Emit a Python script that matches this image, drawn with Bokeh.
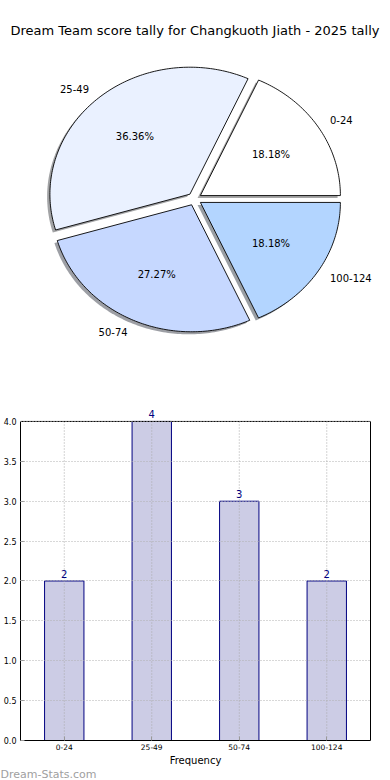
import math
from bokeh.plotting import figure
from bokeh.models import (Range1d, FactorRange, ColumnDataSource, LabelSet, Label,
                          FixedTicker, PrintfTickFormatter, Span, LinearAxis)
from bokeh.layouts import column
from bokeh.embed import file_html
from bokeh.resources import INLINE
from bokeh.core.properties import value

# ---------------- data ----------------
categories = ["0-24", "25-49", "50-74", "100-124"]
counts = [2, 4, 3, 2]
slice_colors = ["#ffffff", "#eaf1ff", "#c6d8ff", "#b3d5ff"]
y_ticks = [0.0, 0.5, 1.0, 1.5, 2.0, 2.5, 3.0, 3.5, 4.0]
y_max = 4.0
title_text = "Dream Team score tally for Changkuoth Jiath - 2025 tally"
x_label = "Frequency"
watermark = "Dream-Stats.com"

FONT = "DejaVu Sans"

# ---------------- layout constants (pixels) ----------------
W = 390
PIE_H = 390
BAR_H = 378
WM_H = 12
CX, CY = 194.0, 198.5      # pie centre on the canvas
RX, RY = 140.0, 127.0      # pie radii (elliptical, like the original)
EXPLODE = 0.05
SHADOW_OFF = 0.02
HEADROOM = 1.05            # room above the frame top for the value labels

# ---------------- pie ----------------
p1 = figure(width=W, height=PIE_H, output_backend="svg", toolbar_location=None,
            x_range=Range1d(-CX / RX, (W - CX) / RX),
            y_range=Range1d(-(PIE_H - CY) / RY, CY / RY),
            min_border=0, x_axis_type=None, y_axis_type=None)
p1.frame_align = False
p1.grid.visible = False
p1.outline_line_color = None
p1.background_fill_color = "white"
p1.border_fill_color = "white"

total = float(sum(counts))
wx, wy, shx, shy, shc = [], [], [], [], []
lx, ly, lal, px, py, ptxt = [], [], [], [], [], []
start = 0.0
for c, col in zip(counts, slice_colors):
    span = 360.0 * c / total
    t1, t2 = start, start + span
    mid = math.radians((t1 + t2) / 2.0)
    ox, oy = EXPLODE * math.cos(mid), EXPLODE * math.sin(mid)
    n = max(int(span), 4)
    arc = [math.radians(t1 + (t2 - t1) * k / n) for k in range(n + 1)]
    xs = [ox] + [ox + math.cos(a) for a in arc]
    ys = [oy] + [oy + math.sin(a) for a in arc]
    wx.append(xs)
    wy.append(ys)
    shx.append([v - SHADOW_OFF for v in xs])
    shy.append([v - SHADOW_OFF for v in ys])
    h = col.lstrip("#")
    r, g, b = int(h[0:2], 16), int(h[2:4], 16), int(h[4:6], 16)
    shc.append("#%02x%02x%02x" % (int(r * 0.3), int(g * 0.3), int(b * 0.3)))
    lx.append(ox + 1.1 * math.cos(mid))
    ly.append(oy + 1.1 * math.sin(mid))
    lal.append("left" if math.cos(mid) > 0 else "right")
    px.append(ox + 0.6 * math.cos(mid))
    py.append(oy + 0.6 * math.sin(mid))
    ptxt.append("%.2f%%" % (100.0 * c / total))
    start = t2

p1.patches(xs=shx, ys=shy, fill_color=shc, fill_alpha=0.5, line_color=None)
p1.patches(xs="xs", ys="ys", fill_color="fc", line_color="black", line_width=0.9,
           source=ColumnDataSource(dict(xs=wx, ys=wy, fc=slice_colors)))
p1.text(x="x", y="y", text="t", text_align="al", text_baseline="middle",
        text_font=value(FONT), text_font_size="10px", text_color="black",
        source=ColumnDataSource(dict(x=lx, y=ly, t=categories, al=lal)))
p1.text(x="x", y="y", text="t", text_align="center", text_baseline="middle",
        text_font=value(FONT), text_font_size="10px", text_color="black",
        source=ColumnDataSource(dict(x=px, y=py, t=ptxt)))
p1.add_layout(Label(x=194.5, y=PIE_H - 30, x_units="screen", y_units="screen",
                    text=title_text, text_align="center", text_baseline="middle",
                    text_font=FONT, text_font_size="13px", text_color="black"))

# ---------------- bar chart ----------------
# frame: left 19, right 370, bottom 740; y=4 sits at page y 421
p2 = figure(width=W, height=BAR_H, output_backend="svg", toolbar_location=None,
            x_range=FactorRange(factors=categories, range_padding=0),
            y_range=Range1d(0, y_max * HEADROOM),
            min_border_left=19, min_border_right=20, min_border_bottom=28)
p2.frame_align = False
p2.min_border_top = 31 - int(round(319 * (HEADROOM - 1.0)))
p2.background_fill_color = "white"
p2.border_fill_color = "white"
p2.outline_line_color = None
p2.xgrid.visible = False

src = ColumnDataSource(dict(cat=categories, cnt=counts, lab=[str(c) for c in counts],
                            y0=[0.0] * len(categories), y1=[y_max] * len(categories)))
p2.vbar(x="cat", top="cnt", width=0.45, fill_color="#ccccE5", line_color="#000080",
        line_width=1, source=src)
# vertical grid lines (dotted, on top of bars) only inside the 0..4 box
p2.segment(x0="cat", y0="y0", x1="cat", y1="y1", line_color="#a8a8a8",
           line_dash="1 2", line_width=1, source=src)
p2.ygrid.grid_line_color = "#b0b0b0"
p2.ygrid.grid_line_dash = "1 2"
p2.ygrid.grid_line_width = 1
p2.ygrid.level = "overlay"

p2.add_layout(LabelSet(x="cat", y="cnt", text="lab", y_offset=3, source=src,
                       text_align="center", text_baseline="bottom", text_font=value(FONT),
                       text_font_size="10px", text_color="#000080"))

# frame top border at y=4
p2.add_layout(Span(location=y_max, dimension="width", line_color="black", line_width=1))

p2.yaxis.ticker = FixedTicker(ticks=y_ticks)
p2.yaxis.formatter = PrintfTickFormatter(format="%.1f")
p2.yaxis.bounds = (0, y_max)
right_ax = LinearAxis(ticker=FixedTicker(ticks=[]), bounds=(0, y_max),
                      major_label_standoff=0)
p2.add_layout(right_ax, "right")
for ax in (p2.xaxis[0], p2.yaxis[0], right_ax):
    ax.axis_line_color = "black"
    ax.major_tick_in = 4
    ax.major_tick_out = 0
    ax.major_tick_line_color = "#999999"
    ax.minor_tick_line_color = None
    ax.major_label_text_font = FONT
    ax.major_label_text_color = "black"
p2.xaxis.major_label_standoff = 3
p2.yaxis[0].major_label_standoff = 4
p2.yaxis[0].major_label_text_font_size = "8px"
p2.xaxis.major_label_text_font_size = "7.5px"
p2.xaxis.axis_label = x_label
p2.xaxis.axis_label_text_font = FONT
p2.xaxis.axis_label_text_font_size = "10px"
p2.xaxis.axis_label_text_font_style = "normal"
p2.xaxis.axis_label_text_color = "black"
p2.xaxis.axis_label_standoff = 2

# ---------------- watermark strip ----------------
p3 = figure(width=W, height=WM_H, output_backend="svg", toolbar_location=None,
            x_range=Range1d(0, 1), y_range=Range1d(0, 1),
            min_border=0, x_axis_type=None, y_axis_type=None)
p3.frame_align = False
p3.grid.visible = False
p3.outline_line_color = None
p3.background_fill_color = "white"
p3.border_fill_color = "white"
p3.add_layout(Label(x=0, y=WM_H / 2.0, x_units="screen", y_units="screen", text=watermark,
                    text_align="left", text_baseline="middle", text_font=FONT,
                    text_font_size="11px", text_color="#a0a0a0"))

layout = column(p1, p2, p3)
open("out.html", "w").write(file_html(layout, INLINE))
